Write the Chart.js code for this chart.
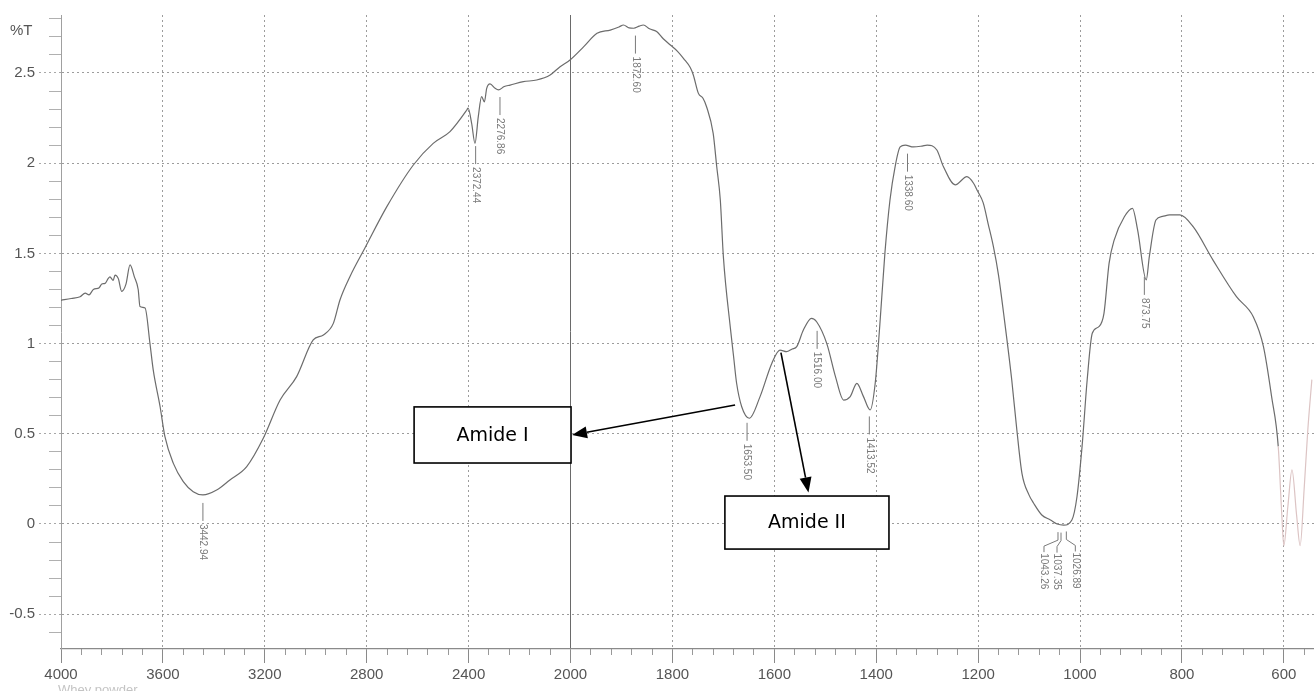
<!DOCTYPE html>
<html>
<head>
<meta charset="utf-8">
<script src="https://cdn.jsdelivr.net/npm/chart.js@4.4.1/dist/chart.umd.min.js"></script>
<style>
  html, body { margin:0; padding:0; background:#fff; }
  #wrap { position:relative; width:1314px; height:691px; }
</style>
</head>
<body>
<div id="wrap"><canvas id="ftir" width="1314" height="691"></canvas></div>
<script>
// ══════════════════════════════════════════════════
//  DATA
// ══════════════════════════════════════════════════
const wavenumbers = [
  4000,3960,3925,3905,3890,3873,3850,3840,3827,3815,3808,3795,3788,3775,3762,3745,3729,3712,3697,3690,
  3670,3651,3638,3611,3592,3559,3520,3481,3443,3389,3337,3271,3206,3140,3075,3010,2970,2931,2905,2866,
  2807,2721,2617,2539,2473,2407,2402,2388,2375,2362,2349,2338,2329,2316,2296,2283,2260,2237,2185,2133,
  2080,2041,2002,1974,1948,1922,1905,1896,1885,1876,1865,1857,1845,1831,1818,1804,1790,1778,1765,1759,
  1749,1740,1733,1720,1713,1706,1700,1686,1680,1674,1664,1649,1628,1605,1589,1576,1565,1556,1543,1527,
  1517,1497,1480,1464,1451,1438,1425,1412,1402,1393,1383,1373,1363,1353,1343,1327,1310,1300,1281,1268,
  1245,1222,1209,1202,1190,1180,1170,1160,1150,1134,1124,1114,1100,1091,1075,1058,1045,1032,1016,1006,
  996,986,976,963,953,943,933,913,897,887,870,864,851,838,824,804,778,739,693,660,
  640,624,611,604,600,592,584,575,568,560,553,545
];
const transmittance = [
  1.24,1.25,1.26,1.28,1.27,1.30,1.31,1.33,1.334,1.36,1.37,1.35,1.38,1.36,1.29,1.33,1.436,1.37,1.30,1.205,
  1.197,1.003,0.854,0.65,0.484,0.336,0.235,0.179,0.161,0.188,0.244,0.318,0.475,0.687,0.817,1.02,1.048,1.112,1.242,1.371,
  1.53,1.759,1.99,2.11,2.175,2.295,2.306,2.22,2.11,2.258,2.369,2.34,2.415,2.44,2.415,2.406,2.425,2.433,2.452,2.461,
  2.489,2.535,2.572,2.646,2.72,2.738,2.755,2.766,2.75,2.748,2.76,2.766,2.745,2.73,2.69,2.655,2.62,2.58,2.53,2.489,
  2.387,2.36,2.313,2.165,1.98,1.796,1.482,1.08,0.93,0.78,0.65,0.586,0.706,0.89,0.964,0.955,0.97,0.983,1.075,1.14,
  1.121,1.0,0.817,0.687,0.706,0.78,0.706,0.632,0.78,1.10,1.50,1.796,1.98,2.09,2.10,2.09,2.095,2.10,2.073,1.98,
  1.88,1.925,1.889,1.85,1.78,1.66,1.537,1.38,1.168,0.798,0.521,0.281,0.16,0.115,0.05,0.022,0.0,-0.006,0.022,0.151,
  0.43,0.798,1.057,1.094,1.168,1.445,1.574,1.703,1.75,1.63,1.353,1.482,1.685,1.705,1.713,1.713,1.648,1.463,1.26,1.149,
  0.983,0.706,0.43,0.05,-0.12,0.10,0.30,0.05,-0.12,0.20,0.52,0.80
];

const xTickWaves = [4000,3600,3200,2800,2400,2000,1800,1600,1400,1200,1000,800,600];
const yTicks = [2.5,2,1.5,1,0.5,0,-0.5];
const yTickLabels = ['2.5','2','1.5','1','0.5','0','-0.5'];

const peakWaves  = [3442.94,2372.44,2276.86,1872.60,1653.50,1516.00,1413.52,1338.60,873.75,1043.26,1037.35,1026.89];
const peakLabels = ['3442.94','2372.44','2276.86','1872.60','1653.50','1516.00','1413.52','1338.60','873.75','1043.26','1037.35','1026.89'];
const peakShift  = [0,0,0,0,0,0,0,0,0,-14,-4,9];

const amideBoxes = [
  { label:'Amide I',  w1:2614, w2:1999, v1:0.649, v2:0.338 },
  { label:'Amide II', w1:1697, w2:1375, v1:0.155, v2:-0.139 },
];
const amideArrows = [
  { from:[1677,0.66], to:[1997,0.493] },
  { from:[1587,0.95], to:[1533,0.175] },
];

// split abscissa: 4000-2000 at half the scale of 2000-400
const toAxis   = w => w >= 2000 ? (4000 - w) / 400 : 5 + (2000 - w) / 200;
const fromAxis = u => u <= 5 ? 4000 - 400 * u : 2000 - 200 * (u - 5);

// minor ticks: five divisions per major interval
const xMinor = [];
for (let i = 0; i < xTickWaves.length - 1; i++) {
  const a = toAxis(xTickWaves[i]), b = toAxis(xTickWaves[i+1]);
  for (let k = 1; k < 5; k++) xMinor.push(a + (b - a) * k / 5);
}
xMinor.push(12.2);
const yMinor = [];
for (let k = -6; k <= 28; k++) if (k % 5 !== 0) yMinor.push(k / 10);

function curveAt(w) {
  for (let i = 0; i < wavenumbers.length - 1; i++) {
    const a = wavenumbers[i], b = wavenumbers[i+1];
    if (w <= a && w >= b) {
      const t = (a - w) / (a - b);
      return transmittance[i] + t * (transmittance[i+1] - transmittance[i]);
    }
  }
  return transmittance[transmittance.length - 1];
}

const GRID = '#9c9c9c';
const TXT  = '#555';
const FONT = '"Liberation Sans", Arial, sans-serif';

// ══════════════════════════════════════════════════
//  PLUGINS (axis caption, peak markers, amide notes)
// ══════════════════════════════════════════════════
const captionPlugin = {
  id: 'caption',
  afterDraw(chart) {
    const ctx = chart.ctx;
    ctx.save();
    ctx.fillStyle = TXT;
    ctx.font = '15px ' + FONT;
    ctx.textBaseline = 'middle';
    ctx.fillText('%T', 10, 31);
    ctx.fillStyle = '#c4c4c4';
    ctx.font = '13px ' + FONT;
    ctx.textBaseline = 'top';
    ctx.fillText('Whey powder', 58, 684);
    ctx.restore();
  }
};

const peakPlugin = {
  id: 'peaks',
  afterDatasetsDraw(chart) {
    const { ctx, scales: { x, y } } = chart;
    ctx.save();
    ctx.strokeStyle = '#7a7a7a';
    ctx.fillStyle = '#7a7a7a';
    ctx.lineWidth = 1;
    ctx.font = '10px ' + FONT;
    ctx.textBaseline = 'middle';
    peakWaves.forEach((w, i) => {
      const px = x.getPixelForValue(toAxis(w));
      const py = y.getPixelForValue(curveAt(w));
      const dx = peakShift[i];
      ctx.beginPath();
      if (dx === 0) {
        ctx.moveTo(px, py + 8); ctx.lineTo(px, py + 26);
      } else {
        ctx.moveTo(px, py + 8); ctx.lineTo(px, py + 16);
        ctx.lineTo(px + dx, py + 22); ctx.lineTo(px + dx, py + 28);
      }
      ctx.stroke();
      ctx.save();
      ctx.translate(px + dx, py + 29);
      ctx.rotate(Math.PI / 2);
      ctx.fillText(peakLabels[i], 0, 0);
      ctx.restore();
    });
    ctx.restore();
  }
};

const amidePlugin = {
  id: 'amide',
  afterDraw(chart) {
    const { ctx, scales: { x, y } } = chart;
    const X = w => x.getPixelForValue(toAxis(w));
    ctx.save();
    ctx.strokeStyle = '#000';
    ctx.fillStyle = '#000';
    ctx.lineWidth = 1.6;
    amideArrows.forEach(a => {
      const x0 = X(a.from[0]), y0 = y.getPixelForValue(a.from[1]);
      const x1 = X(a.to[0]),   y1 = y.getPixelForValue(a.to[1]);
      const ang = Math.atan2(y1 - y0, x1 - x0);
      const hl = 15, hw = 6;
      const bx = x1 - hl * Math.cos(ang), by = y1 - hl * Math.sin(ang);
      ctx.beginPath(); ctx.moveTo(x0, y0); ctx.lineTo(bx, by); ctx.stroke();
      ctx.beginPath();
      ctx.moveTo(x1, y1);
      ctx.lineTo(bx + hw * Math.sin(ang), by - hw * Math.cos(ang));
      ctx.lineTo(bx - hw * Math.sin(ang), by + hw * Math.cos(ang));
      ctx.closePath(); ctx.fill();
    });
    amideBoxes.forEach(b => {
      const l = X(b.w1), r = X(b.w2);
      const t = y.getPixelForValue(b.v1), btm = y.getPixelForValue(b.v2);
      ctx.fillStyle = '#fff';
      ctx.fillRect(l, t, r - l, btm - t);
      ctx.strokeRect(l, t, r - l, btm - t);
      ctx.fillStyle = '#000';
      ctx.font = '19px "DejaVu Sans", Verdana, sans-serif';
      ctx.textAlign = 'center';
      ctx.textBaseline = 'middle';
      ctx.fillText(b.label, (l + r) / 2, (t + btm) / 2 + 1);
    });
    ctx.restore();
  }
};

// ══════════════════════════════════════════════════
//  CHART
// ══════════════════════════════════════════════════
const points = wavenumbers.map((w, i) => ({ x: toAxis(w), y: transmittance[i] }));
const fadedFrom = toAxis(612);

new Chart(document.getElementById('ftir').getContext('2d'), {
  type: 'line',
  data: {
    datasets: [{
      data: points,
      borderColor: '#6c6c6c',
      borderWidth: 1.2,
      pointRadius: 0,
      cubicInterpolationMode: 'monotone',
      segment: { borderColor: c => c.p0.parsed.x >= fadedFrom ? '#dcc4c4' : undefined },
    }]
  },
  options: {
    responsive: false,
    animation: false,
    layout: { padding: { top: 15, left: 0, right: 0, bottom: 0 } },
    plugins: { legend: { display: false }, tooltip: { enabled: false } },
    scales: {
      x: {
        type: 'linear', position: 'bottom',
        min: 0, max: 12.296,
        afterBuildTicks: s => { s.ticks = xTickWaves.map(w => ({ value: toAxis(w) })); },
        afterFit: s => { s.height = 42; },
        ticks: { autoSkip: false, maxRotation: 0, padding: 3, color: TXT,
                 font: { family: FONT, size: 15 },
                 callback: v => String(Math.round(fromAxis(v))) },
        grid: { color: c => c.tick && Math.abs(c.tick.value - 5) < 1e-6 ? '#6a6a6a' : GRID,
                lineWidth: 1, tickLength: 14, tickColor: '#8a8a8a' },
        border: { color: '#8a8a8a', width: 1.2,
                  dash: c => c.tick && Math.abs(c.tick.value - 5) < 1e-6 ? [] : [2, 3] },
      },
      xMinor: {
        type: 'linear', position: 'bottom', weight: -1,
        min: 0, max: 12.296,
        afterBuildTicks: s => { s.ticks = xMinor.map(v => ({ value: v })); },
        afterFit: s => { s.height = 0; },
        ticks: { display: false },
        grid: { drawOnChartArea: false, tickLength: 6, tickColor: '#999' },
        border: { display: false },
      },
      y: {
        type: 'linear', position: 'left',
        min: -0.693, max: 2.8215,
        afterBuildTicks: s => { s.ticks = yTicks.map(v => ({ value: v })); },
        afterFit: s => { s.width = 61; },
        ticks: { padding: 4, color: TXT, font: { family: FONT, size: 15 },
                 callback: v => yTickLabels[yTicks.indexOf(v)] },
        grid: { color: GRID, tickLength: 22, tickColor: '#a8a8a8', tickBorderDash: [2, 3] },
        border: { color: '#a0a0a0', dash: [2, 3] },
      },
      yMinor: {
        type: 'linear', position: 'left', weight: -1,
        min: -0.693, max: 2.8215,
        afterBuildTicks: s => { s.ticks = yMinor.map(v => ({ value: v })); },
        afterFit: s => { s.width = 0; },
        ticks: { display: false },
        grid: { drawOnChartArea: false, tickLength: 12, tickColor: '#b0b0b0' },
        border: { display: false },
      },
    }
  },
  plugins: [captionPlugin, peakPlugin, amidePlugin]
});
</script>
</body>
</html>
